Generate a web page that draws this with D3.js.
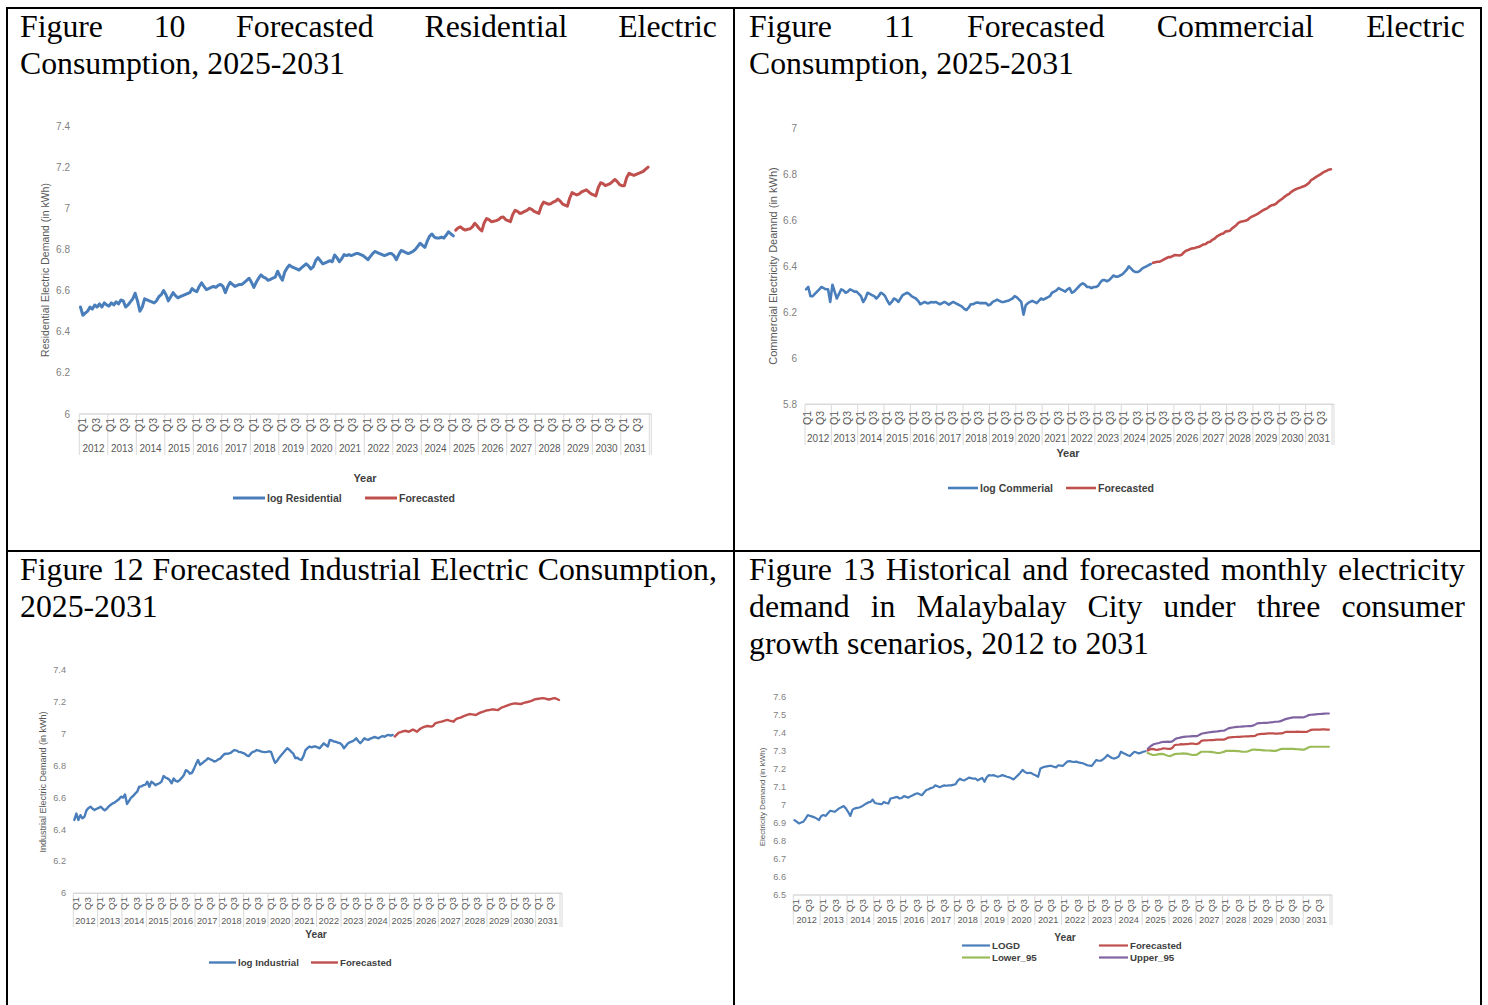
<!DOCTYPE html>
<html>
<head>
<meta charset="utf-8">
<script src="https://cdn.jsdelivr.net/npm/d3@7"></script>
<style>
  body { margin: 0; background: #fff; }
  svg { display: block; }
</style>
</head>
<body>
<div id="page"></div>
<script>
// ---- data ----------------------------------------------------------------
const years = ["2012","2013","2014","2015","2016","2017","2018","2019","2020","2021",
               "2022","2023","2024","2025","2026","2027","2028","2029","2030","2031"];
const quarterTicks = [{label: "Q1", month: 1}, {label: "Q3", month: 7}];
const histStart = 0;       // Jan 2012
const fcstStart = 158;     // Mar 2025

const resTicks = [6, 6.2, 6.4, 6.6, 6.8, 7, 7.2, 7.4];
const resHist = [
  6.52, 6.48, 6.49, 6.50, 6.52, 6.51, 6.53, 6.52, 6.535, 6.52, 6.54, 6.53,
  6.525, 6.54, 6.53, 6.545, 6.535, 6.554, 6.55, 6.52, 6.53, 6.545, 6.56, 6.587,
  6.55, 6.50, 6.52, 6.56, 6.555, 6.55, 6.545, 6.54, 6.55, 6.57, 6.58, 6.60,
  6.58, 6.55, 6.57, 6.59, 6.575, 6.565, 6.57, 6.575, 6.58, 6.585, 6.59, 6.61,
  6.60, 6.595, 6.62, 6.638, 6.62, 6.605, 6.61, 6.615, 6.62, 6.615, 6.625, 6.63,
  6.62, 6.59, 6.62, 6.64, 6.63, 6.62, 6.625, 6.63, 6.63, 6.64, 6.65, 6.66,
  6.64, 6.615, 6.64, 6.66, 6.676, 6.665, 6.66, 6.65, 6.655, 6.66, 6.665, 6.694,
  6.67, 6.65, 6.69, 6.71, 6.724, 6.715, 6.71, 6.705, 6.70, 6.71, 6.72, 6.73,
  6.72, 6.705, 6.715, 6.745, 6.76, 6.745, 6.73, 6.735, 6.74, 6.745, 6.74, 6.773,
  6.76, 6.74, 6.755, 6.775, 6.77, 6.775, 6.77, 6.775, 6.78, 6.78, 6.775, 6.77,
  6.76, 6.75, 6.765, 6.78, 6.79, 6.785, 6.78, 6.775, 6.77, 6.775, 6.78, 6.78,
  6.77, 6.75, 6.775, 6.795, 6.79, 6.785, 6.78, 6.785, 6.79, 6.80, 6.815, 6.83,
  6.82, 6.81, 6.84, 6.865, 6.875, 6.86, 6.855, 6.855, 6.86, 6.855, 6.87, 6.886,
  6.875, 6.866
];
const resFcst = [
  6.894, 6.905, 6.91, 6.90, 6.894, 6.898, 6.90, 6.91, 6.927, 6.915,
  6.90, 6.89, 6.93, 6.95, 6.945, 6.935, 6.937, 6.94, 6.945, 6.955, 6.958, 6.945,
  6.94, 6.935, 6.97, 6.99, 6.985, 6.975, 6.978, 6.985, 6.99, 7.00, 6.995, 6.985,
  6.98, 6.975, 7.01, 7.03, 7.025, 7.02, 7.022, 7.03, 7.035, 7.045, 7.035, 7.02,
  7.015, 7.01, 7.05, 7.076, 7.07, 7.065, 7.07, 7.08, 7.085, 7.09, 7.08, 7.07,
  7.065, 7.06, 7.10, 7.124, 7.12, 7.11, 7.115, 7.12, 7.13, 7.14, 7.13, 7.115,
  7.11, 7.11, 7.15, 7.17, 7.165, 7.16, 7.165, 7.17, 7.175, 7.18, 7.19, 7.20
];

const comTicks = [5.8, 6, 6.2, 6.4, 6.6, 6.8, 7];
const comHist = [
  6.30, 6.31, 6.27, 6.27, 6.28, 6.29, 6.30, 6.31, 6.305, 6.30, 6.30, 6.245,
  6.32, 6.29, 6.26, 6.28, 6.30, 6.295, 6.285, 6.29, 6.30, 6.295, 6.29, 6.29,
  6.28, 6.27, 6.245, 6.26, 6.285, 6.28, 6.275, 6.27, 6.26, 6.27, 6.285, 6.28,
  6.27, 6.25, 6.235, 6.245, 6.26, 6.255, 6.245, 6.26, 6.275, 6.28, 6.285, 6.28,
  6.27, 6.265, 6.26, 6.25, 6.235, 6.24, 6.245, 6.24, 6.24, 6.245, 6.243, 6.245,
  6.24, 6.235, 6.24, 6.245, 6.24, 6.233, 6.24, 6.245, 6.24, 6.235, 6.23, 6.225,
  6.215, 6.21, 6.22, 6.235, 6.235, 6.24, 6.243, 6.24, 6.24, 6.24, 6.24, 6.23,
  6.235, 6.245, 6.25, 6.255, 6.25, 6.245, 6.245, 6.248, 6.25, 6.255, 6.26, 6.27,
  6.265, 6.255, 6.245, 6.19, 6.23, 6.24, 6.245, 6.25, 6.245, 6.24, 6.25, 6.26,
  6.255, 6.26, 6.265, 6.27, 6.285, 6.29, 6.295, 6.305, 6.30, 6.295, 6.29, 6.30,
  6.305, 6.285, 6.29, 6.30, 6.31, 6.32, 6.326, 6.32, 6.31, 6.31, 6.305, 6.31,
  6.31, 6.315, 6.33, 6.34, 6.34, 6.335, 6.34, 6.35, 6.36, 6.355, 6.355, 6.36,
  6.365, 6.375, 6.385, 6.40, 6.39, 6.38, 6.375, 6.375, 6.38, 6.39, 6.395, 6.40,
  6.405, 6.41
];
const comFcst = [
  6.415, 6.418, 6.42, 6.42, 6.425, 6.43, 6.435, 6.44, 6.44, 6.445,
  6.449, 6.448, 6.447, 6.45, 6.46, 6.468, 6.471, 6.475, 6.478, 6.48, 6.483, 6.485,
  6.49, 6.495, 6.497, 6.505, 6.507, 6.515, 6.52, 6.529, 6.535, 6.54, 6.543, 6.551,
  6.553, 6.555, 6.565, 6.572, 6.58, 6.59, 6.594, 6.596, 6.598, 6.601, 6.61, 6.616,
  6.62, 6.625, 6.63, 6.637, 6.643, 6.648, 6.652, 6.66, 6.665, 6.667, 6.672, 6.681,
  6.688, 6.695, 6.703, 6.71, 6.715, 6.724, 6.73, 6.735, 6.739, 6.742, 6.746, 6.749,
  6.755, 6.762, 6.775, 6.78, 6.787, 6.793, 6.798, 6.805, 6.811, 6.815, 6.82, 6.822
];

const indTicks = [6, 6.2, 6.4, 6.6, 6.8, 7, 7.2, 7.4];
const indHist = [
  6.46, 6.50, 6.46, 6.49, 6.47, 6.48, 6.52, 6.535, 6.543, 6.53, 6.522, 6.53,
  6.535, 6.543, 6.53, 6.52, 6.53, 6.545, 6.555, 6.564, 6.57, 6.58, 6.59, 6.606,
  6.60, 6.62, 6.56, 6.58, 6.60, 6.61, 6.625, 6.637, 6.668, 6.67, 6.678, 6.68,
  6.70, 6.668, 6.70, 6.69, 6.678, 6.685, 6.69, 6.70, 6.735, 6.725, 6.72, 6.71,
  6.69, 6.72, 6.705, 6.70, 6.71, 6.725, 6.74, 6.772, 6.765, 6.75, 6.755, 6.78,
  6.81, 6.836, 6.805, 6.815, 6.826, 6.835, 6.847, 6.84, 6.835, 6.826, 6.83, 6.84,
  6.845, 6.86, 6.873, 6.875, 6.876, 6.88, 6.89, 6.898, 6.895, 6.887, 6.885, 6.88,
  6.876, 6.865, 6.86, 6.875, 6.887, 6.89, 6.898, 6.895, 6.89, 6.887, 6.885, 6.887,
  6.89, 6.887, 6.85, 6.818, 6.83, 6.85, 6.865, 6.88, 6.895, 6.909, 6.90, 6.887,
  6.875, 6.847, 6.85, 6.84, 6.836, 6.86, 6.898, 6.91, 6.92, 6.915, 6.92, 6.92,
  6.915, 6.909, 6.925, 6.94, 6.93, 6.92, 6.962, 6.958, 6.952, 6.95, 6.945, 6.941,
  6.93, 6.909, 6.925, 6.941, 6.948, 6.952, 6.96, 6.972, 6.955, 6.941, 6.955, 6.972,
  6.965, 6.962, 6.97, 6.975, 6.98, 6.976, 6.972, 6.98, 6.986, 6.982, 6.99, 6.993,
  6.988, 6.993
];
const indFcst = [
  6.983, 6.995, 7.007, 7.01, 7.015, 7.019, 7.016, 7.013, 7.02, 7.027,
  7.02, 7.013, 7.025, 7.035, 7.041, 7.045, 7.049, 7.047, 7.045, 7.05, 7.066, 7.07,
  7.073, 7.076, 7.08, 7.084, 7.087, 7.083, 7.08, 7.076, 7.09, 7.097, 7.1, 7.105,
  7.111, 7.115, 7.12, 7.124, 7.122, 7.12, 7.118, 7.125, 7.132, 7.136, 7.14, 7.145,
  7.148, 7.15, 7.153, 7.152, 7.15, 7.149, 7.158, 7.166, 7.17, 7.175, 7.18, 7.185,
  7.188, 7.191, 7.19, 7.188, 7.187, 7.19, 7.195, 7.198, 7.201, 7.205, 7.21, 7.216,
  7.218, 7.22, 7.222, 7.224, 7.222, 7.218, 7.215, 7.218, 7.222, 7.224, 7.218, 7.212
];

const totTicks = [6.5, 6.6, 6.7, 6.8, 6.9, 7, 7.1, 7.2, 7.3, 7.4, 7.5, 7.6];
const logd = [
  6.917, 6.908, 6.898, 6.903, 6.908, 6.925, 6.945, 6.94, 6.936, 6.932, 6.925, 6.917,
  6.94, 6.945, 6.94, 6.955, 6.969, 6.966, 6.963, 6.972, 6.982, 6.988, 6.995, 6.982,
  6.963, 6.94, 6.975, 6.982, 6.985, 6.987, 6.992, 7.00, 7.008, 7.015, 7.018, 7.031,
  7.012, 7.009, 7.007, 7.005, 7.018, 7.012, 7.009, 7.037, 7.04, 7.043, 7.046, 7.037,
  7.04, 7.05, 7.046, 7.042, 7.05, 7.055, 7.062, 7.066, 7.06, 7.055, 7.07, 7.084,
  7.088, 7.095, 7.098, 7.11, 7.105, 7.10, 7.105, 7.11, 7.108, 7.11, 7.11, 7.113,
  7.116, 7.135, 7.147, 7.14, 7.138, 7.145, 7.153, 7.15, 7.147, 7.147, 7.138, 7.145,
  7.151, 7.13, 7.155, 7.167, 7.165, 7.167, 7.162, 7.158, 7.162, 7.167, 7.163, 7.158,
  7.155, 7.15, 7.143, 7.155, 7.167, 7.18, 7.196, 7.185, 7.178, 7.18, 7.178, 7.17,
  7.165, 7.158, 7.204, 7.21, 7.214, 7.216, 7.218, 7.218, 7.214, 7.21, 7.222, 7.22,
  7.218, 7.23, 7.242, 7.245, 7.242, 7.24, 7.242, 7.238, 7.235, 7.233, 7.228, 7.222,
  7.22, 7.218, 7.235, 7.251, 7.247, 7.247, 7.255, 7.265, 7.279, 7.27, 7.262, 7.259,
  7.264, 7.27, 7.297, 7.29, 7.284, 7.278, 7.273, 7.285, 7.297, 7.293, 7.288, 7.292,
  7.297, 7.30
];
const totFcst = [
  7.304, 7.31, 7.313, 7.31, 7.307, 7.31, 7.312, 7.316, 7.315, 7.313,
  7.313, 7.318, 7.334, 7.336, 7.337, 7.339, 7.338, 7.339, 7.34, 7.342, 7.343, 7.341,
  7.34, 7.345, 7.358, 7.36, 7.36, 7.361, 7.362, 7.362, 7.363, 7.364, 7.365, 7.364,
  7.364, 7.37, 7.376, 7.377, 7.378, 7.379, 7.38, 7.38, 7.381, 7.382, 7.383, 7.383,
  7.384, 7.384, 7.385, 7.393, 7.395, 7.396, 7.397, 7.398, 7.399, 7.399, 7.399, 7.398,
  7.398, 7.399, 7.399, 7.404, 7.408, 7.408, 7.408, 7.408, 7.408, 7.409, 7.408, 7.408,
  7.408, 7.407, 7.412, 7.419, 7.42, 7.42, 7.42, 7.42, 7.421, 7.421, 7.42, 7.42
];
const lower95 = [
  7.29, 7.285, 7.28, 7.279, 7.281, 7.284, 7.285, 7.284, 7.279, 7.275,
  7.273, 7.278, 7.284, 7.285, 7.286, 7.287, 7.288, 7.287, 7.285, 7.282, 7.279, 7.28,
  7.281, 7.29, 7.297, 7.297, 7.297, 7.297, 7.296, 7.295, 7.293, 7.29, 7.29, 7.293,
  7.296, 7.302, 7.302, 7.302, 7.302, 7.302, 7.301, 7.30, 7.298, 7.297, 7.297, 7.30,
  7.305, 7.309, 7.309, 7.308, 7.307, 7.306, 7.305, 7.304, 7.304, 7.303, 7.302, 7.302,
  7.305, 7.31, 7.313, 7.313, 7.313, 7.313, 7.313, 7.313, 7.312, 7.311, 7.31, 7.309,
  7.309, 7.315, 7.322, 7.325, 7.325, 7.325, 7.325, 7.325, 7.325, 7.325, 7.325, 7.325
];
const upper95 = [
  7.313, 7.325, 7.334, 7.34, 7.343, 7.346, 7.35, 7.352, 7.352, 7.353,
  7.352, 7.355, 7.365, 7.372, 7.374, 7.377, 7.38, 7.381, 7.382, 7.383, 7.384, 7.384,
  7.384, 7.39, 7.397, 7.40, 7.402, 7.404, 7.406, 7.408, 7.409, 7.41, 7.412, 7.414,
  7.414, 7.42, 7.427, 7.43, 7.432, 7.434, 7.435, 7.436, 7.437, 7.438, 7.439, 7.44,
  7.44, 7.442, 7.448, 7.455, 7.456, 7.457, 7.458, 7.458, 7.459, 7.461, 7.462, 7.464,
  7.464, 7.466, 7.47, 7.476, 7.48, 7.483, 7.486, 7.488, 7.488, 7.488, 7.488, 7.488,
  7.49, 7.495, 7.501, 7.503, 7.504, 7.505, 7.506, 7.507, 7.508, 7.509, 7.51, 7.51
];

// ---- drawing -------------------------------------------------------------
const BLUE = "#4a7ebb", RED = "#c0504d", GREEN = "#9bbb59", PURPLE = "#8064a2";
const sans = "'Liberation Sans', Arial, sans-serif";
const serif = "'Liberation Serif', 'Times New Roman', serif";

const svg = d3.select("#page")
  .append("svg")
    .attr("width", 1488)
    .attr("height", 1005);

// table rules
const rule = (x1, y1, x2, y2) => svg.append("line")
  .attr("x1", x1).attr("y1", y1).attr("x2", x2).attr("y2", y2)
  .attr("stroke", "#000").attr("stroke-width", 2);
rule(6, 8, 1482, 8);
rule(7, 7, 7, 1010);
rule(1481, 7, 1481, 1010);
rule(734, 7, 734, 1010);
rule(6, 551, 1482, 551);

// small chart text helper
function stext(g, x, y, str, size, o = {}) {
  const rot = o.rotate ? " rotate(-90)" : "";
  return g.append("text")
    .attr("transform", `translate(${x},${y})${rot}`)
    .attr("text-anchor", o.anchor || "start")
    .attr("dominant-baseline", "central")
    .style("font-family", sans)
    .style("font-size", size + "px")
    .style("font-weight", o.bold ? "bold" : "normal")
    .attr("fill", o.fill || "#595959")
    .text(str);
}

// titles, justified like the document cell
const TSIZE = 31;
const measurer = svg.append("text")
  .style("font-family", serif).style("font-size", TSIZE + "px").attr("opacity", 0);
const measure = s => { measurer.text(s); return measurer.node().getComputedTextLength(); };
const TX = 325 / measure("Consumption, 2025-2031");
const spaceW = measure("a b") - measure("ab");

function title(x, width, baselines, lines) {
  lines.forEach((ln, i) => {
    const words = ln.text.split(" ");
    const widths = words.map(w => measure(w) * TX);
    const gap = ln.justify ? (width - d3.sum(widths)) / (words.length - 1) : spaceW * TX;
    let cx = x;
    words.forEach((w, j) => {
      svg.append("text")
        .attr("transform", `translate(${cx},${baselines[i]}) scale(${TX},1)`)
        .style("font-family", serif).style("font-size", TSIZE + "px")
        .attr("fill", "#000")
        .text(w);
      cx += widths[j] + gap;
    });
  });
}

title(20, 697, [37, 74], [
  {text: "Figure 10 Forecasted Residential Electric", justify: true},
  {text: "Consumption, 2025-2031"}]);
title(749, 716, [37, 74], [
  {text: "Figure 11 Forecasted Commercial Electric", justify: true},
  {text: "Consumption, 2025-2031"}]);
title(20, 697, [580, 617], [
  {text: "Figure 12 Forecasted Industrial Electric Consumption,", justify: true},
  {text: "2025-2031"}]);
title(749, 716, [580, 617, 654], [
  {text: "Figure 13 Historical and forecasted monthly electricity", justify: true},
  {text: "demand in Malaybalay City under three consumer", justify: true},
  {text: "growth scenarios, 2012 to 2031"}]);

function drawPanel(p) {
  const g = svg.append("g");
  const f = p.font;
  const x = d3.scaleLinear().domain([0, years.length * 12]).range([p.x0, p.x1]);
  const y = d3.scaleLinear().domain([p.ticks[0], p.ticks[p.ticks.length - 1]])
    .range([p.yBottom, p.yTop]);
  const axisY = y(p.ticks[0]);

  // value labels (no gridlines in the original)
  p.ticks.forEach(t => stext(g, p.tickX, y(t), String(+t.toFixed(1)), f, {anchor: "end", fill: "#7f7f7f"}));

  // category axis: line, year separators, quarter and year labels
  g.append("line")
    .attr("x1", p.x0).attr("x2", p.x1 + 2).attr("y1", axisY).attr("y2", axisY)
    .attr("stroke", "#d9d9d9").attr("stroke-width", 1.5);
  d3.range(years.length + 1).forEach(k => {
    g.append("line")
      .attr("x1", x(k * 12)).attr("x2", x(k * 12))
      .attr("y1", axisY).attr("y2", p.sepBottom)
      .attr("stroke", "#d9d9d9").attr("stroke-width", 1);
  });
  g.append("line")
    .attr("x1", p.x1 + 2).attr("x2", p.x1 + 2).attr("y1", axisY).attr("y2", p.sepBottom)
    .attr("stroke", "#d9d9d9").attr("stroke-width", 1);
  years.forEach((yr, k) => {
    quarterTicks.forEach(q => {
      stext(g, x(k * 12 + q.month), p.qTop, q.label, f + 0.5, {rotate: true, anchor: "end"});
    });
    stext(g, x(k * 12 + 6), p.yearY, yr, f, {anchor: "middle"});
  });

  // lines
  p.series.forEach(s => {
    g.append("path")
      .datum(s.values)
      .attr("fill", "none")
      .attr("stroke", s.color)
      .attr("stroke-width", p.lineW)
      .attr("stroke-linejoin", "round")
      .attr("stroke-linecap", "round")
      .attr("d", d3.line()
        .x((d, i) => x(s.start + i + 0.5))
        .y(d => y(d)));
  });

  // axis titles
  stext(g, p.yearTitle[0], p.yearTitle[1], "Year", f + 1, {anchor: "middle", bold: true, fill: "#404040"});
  stext(g, p.yTitle[0], p.yTitle[1], p.yLabel, p.yTitleSize, {rotate: true, anchor: "middle"});

  // legend
  p.legend.forEach(l => {
    g.append("line")
      .attr("x1", l.x).attr("x2", l.x + l.len).attr("y1", l.y).attr("y2", l.y)
      .attr("stroke", l.color).attr("stroke-width", p.lineW);
    stext(g, l.x + l.len + 2, l.y, l.label, f + 0.5, {bold: true, fill: "#404040"});
  });
}

drawPanel({
  x0: 79.3, x1: 649.3, yBottom: 414, yTop: 126, ticks: resTicks,
  tickX: 70, qTop: 418, yearY: 448, sepBottom: 455, font: 10, lineW: 3,
  yearTitle: [365, 478], yTitle: [45, 270], yTitleSize: 10.5,
  yLabel: "Residential Electric Demand (in kWh)",
  series: [
    {values: resHist, start: histStart, color: BLUE},
    {values: resFcst, start: fcstStart, color: RED}],
  legend: [
    {x: 233, y: 498, len: 32, color: BLUE, label: "log Residential"},
    {x: 365, y: 498, len: 32, color: RED, label: "Forecasted"}]
});

drawPanel({
  x0: 805, x1: 1332, yBottom: 404.3, yTop: 128.3, ticks: comTicks,
  tickX: 797, qTop: 411, yearY: 438, sepBottom: 445, font: 10, lineW: 2.6,
  yearTitle: [1068, 453], yTitle: [773, 266], yTitleSize: 11,
  yLabel: "Commercial Electricity Deamnd (in kWh)",
  series: [
    {values: comHist, start: histStart, color: BLUE},
    {values: comFcst, start: fcstStart, color: RED}],
  legend: [
    {x: 948, y: 488, len: 30, color: BLUE, label: "log Commerial"},
    {x: 1066, y: 488, len: 30, color: RED, label: "Forecasted"}]
});

drawPanel({
  x0: 73.3, x1: 560, yBottom: 893.3, yTop: 670, ticks: indTicks,
  tickX: 66, qTop: 897, yearY: 921, sepBottom: 927, font: 9.2, lineW: 2.4,
  yearTitle: [316, 934], yTitle: [43, 782], yTitleSize: 9,
  yLabel: "Industrial Electric Demand (in kWh)",
  series: [
    {values: indHist, start: histStart, color: BLUE},
    {values: indFcst, start: fcstStart, color: RED}],
  legend: [
    {x: 209, y: 962.5, len: 27, color: BLUE, label: "log Industrial"},
    {x: 311, y: 962.5, len: 27, color: RED, label: "Forecasted"}]
});

drawPanel({
  x0: 793.3, x1: 1330, yBottom: 895, yTop: 697.3, ticks: totTicks,
  tickX: 786, qTop: 899, yearY: 919.5, sepBottom: 925, font: 9.2, lineW: 2.2,
  yearTitle: [1065, 937], yTitle: [762, 797], yTitleSize: 8,
  yLabel: "Electricity Demand (in kWh)",
  series: [
    {values: logd, start: histStart, color: BLUE},
    {values: lower95, start: fcstStart, color: GREEN},
    {values: upper95, start: fcstStart, color: PURPLE},
    {values: totFcst, start: fcstStart, color: RED}],
  legend: [
    {x: 962, y: 945.5, len: 28, color: BLUE, label: "LOGD"},
    {x: 1099, y: 945.5, len: 29, color: RED, label: "Forecasted"},
    {x: 962, y: 957.5, len: 28, color: GREEN, label: "Lower_95"},
    {x: 1099, y: 957.5, len: 29, color: PURPLE, label: "Upper_95"}]
});
</script>
</body>
</html>
